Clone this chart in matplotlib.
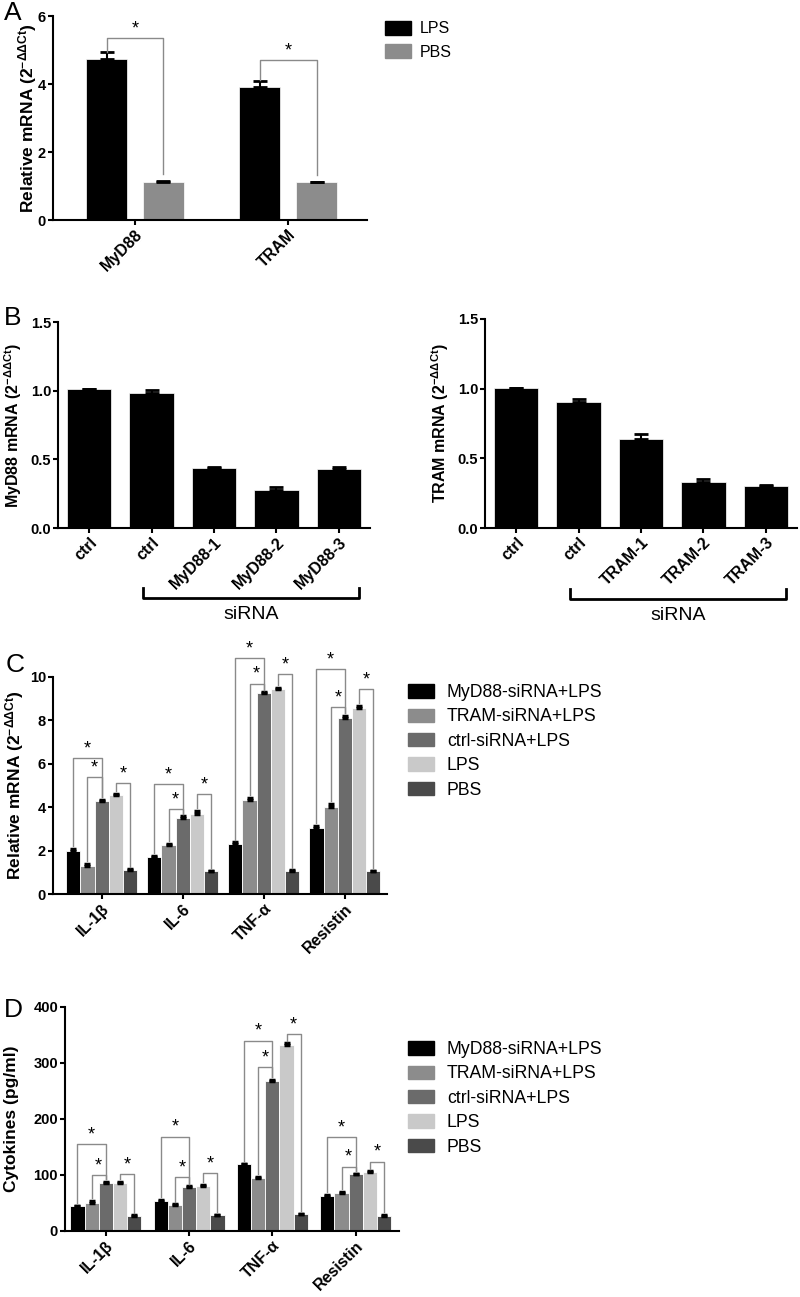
import matplotlib.pyplot as plt
import matplotlib.transforms as mtransforms
from matplotlib.patches import Patch
import numpy as np

plt.rcParams['font.family'] = ['Liberation Sans', 'DejaVu Sans']
plt.rcParams['mathtext.fontset'] = 'custom'
plt.rcParams['mathtext.rm'] = 'Liberation Sans'
plt.rcParams['mathtext.it'] = 'Liberation Sans'
plt.rcParams['mathtext.bf'] = 'Liberation Sans:bold'
plt.rcParams['mathtext.default'] = 'regular'

# ---- panel A data ----
genes_a = ['MyD88', 'TRAM']
lps_a = [4.75, 3.90]
lps_a_err = [0.18, 0.20]
pbs_a = [1.13, 1.11]
pbs_a_err = [0.02, 0.02]
sig_a = [5.36, 4.70]
yticks_a = [0, 2, 4, 6]

# ---- panel B data ----
labels_b1 = ['ctrl', 'ctrl', 'MyD88-1', 'MyD88-2', 'MyD88-3']
myd88_b = [1.01, 0.98, 0.44, 0.275, 0.432]
myd88_b_err = [0.0, 0.025, 0.003, 0.02, 0.012]
labels_b2 = ['ctrl', 'ctrl', 'TRAM-1', 'TRAM-2', 'TRAM-3']
tram_b = [1.008, 0.907, 0.638, 0.331, 0.302]
tram_b_err = [0.0, 0.022, 0.036, 0.019, 0.01]
yticks_b = [0.0, 0.5, 1.0, 1.5]

# ---- panels C / D data ----
cytokines = ['IL-1β', 'IL-6', 'TNF-α', 'Resistin']
groups = ['MyD88-siRNA+LPS', 'TRAM-siRNA+LPS', 'ctrl-siRNA+LPS', 'LPS', 'PBS']
colors_cd = ['#000000', '#8c8c8c', '#6b6b6b', '#c9c9c9', '#4a4a4a']

c_myd88 = [1.99, 1.70, 2.30, 3.02]
c_tram = [1.30, 2.27, 4.35, 4.02]
c_ctrl = [4.28, 3.48, 9.25, 8.12]
c_lps = [4.55, 3.70, 9.45, 8.58]
c_pbs = [1.10, 1.05, 1.07, 1.05]
c_myd88_err = [0.08, 0.05, 0.08, 0.13]
c_tram_err = [0.08, 0.05, 0.07, 0.13]
c_ctrl_err = [0.07, 0.10, 0.04, 0.09]
c_lps_err = [0.07, 0.13, 0.06, 0.08]
c_pbs_err = [0.03, 0.02, 0.02, 0.02]
c_sig_big = [6.28, 5.05, 10.87, 10.37]    # MyD88 vs ctrl
c_sig_small = [5.37, 3.90, 9.70, 8.60]    # TRAM vs ctrl
c_sig_pbs = [5.10, 4.60, 10.15, 9.43]     # LPS vs PBS
yticks_c = [0, 2, 4, 6, 8, 10]

d_myd88 = [44, 53, 119, 63]
d_tram = [50.5, 46, 95, 67.5]
d_ctrl = [86, 78, 268, 101]
d_lps = [85.5, 80.5, 333, 105]
d_pbs = [27, 28, 30, 27.5]
d_myd88_err = [1.5, 2, 1.5, 2]
d_tram_err = [3, 1.5, 2, 2.5]
d_ctrl_err = [1.5, 1.5, 2, 1.5]
d_lps_err = [1.5, 1.5, 2, 1.5]
d_pbs_err = [1, 1, 1, 1]
d_sig_big = [155.6, 168.7, 340, 167.5]
d_sig_small = [99.6, 96, 292, 115]
d_sig_pbs = [101.3, 103, 352, 124]
yticks_d = [0, 100, 200, 300, 400]

W, H = 800, 1297
fig = plt.figure(figsize=(W / 100, H / 100), dpi=100)

TICK_FS = 10.5
XLAB_FS = 11.5


def add_ax(left, top, right, bottom):
    return fig.add_axes([left / W, 1 - bottom / H, (right - left) / W, (bottom - top) / H])


def style(ax, yticks, ylabels, ylabel, ylab_x, fs=12.5):
    for s in ['top', 'right']:
        ax.spines[s].set_visible(False)
    for s in ['left', 'bottom']:
        ax.spines[s].set_linewidth(1.5)
    ax.tick_params(width=1.5, length=3.5, direction='out', pad=1.5)
    ax.set_yticks(yticks, labels=ylabels, fontsize=TICK_FS, fontweight='bold')
    ax.set_ylabel(ylabel, fontsize=fs, fontweight='bold', va='center')
    ax.yaxis.set_label_coords(ylab_x, 0.5)


def xlabels(ax, labels):
    ax.set_xticklabels(labels, rotation=45, ha='right', rotation_mode='anchor',
                       fontsize=XLAB_FS, fontweight='bold')


def bracket(ax, x1, x2, y, b1, b2, color='#8a8a8a'):
    ax.plot([x1, x1, x2, x2], [b1, y, y, b2], color=color, lw=1, clip_on=False)
    ax.annotate('*', (0.5 * (x1 + x2), y), xytext=(0, 0.5), textcoords='offset points',
                ha='center', va='bottom', fontsize=13, annotation_clip=False)


# ================= A =================
axA = add_ax(53, 16, 367, 220)
xa = np.arange(len(genes_a))
off, bw = 0.186, 0.268
axA.bar(xa - off, lps_a, bw, color='black', edgecolor='white', linewidth=0.5)
axA.bar(xa + off, pbs_a, bw, color='#8c8c8c', edgecolor='white', linewidth=0.5)
axA.errorbar(xa - off, lps_a, yerr=[np.zeros(2), lps_a_err], fmt='none', ecolor='black',
             elinewidth=1.5, capsize=5, capthick=2)
axA.errorbar(xa + off, pbs_a, yerr=[np.zeros(2), pbs_a_err], fmt='none', ecolor='black',
             elinewidth=1.5, capsize=5, capthick=2)
for i in range(2):
    bracket(axA, xa[i] - off, xa[i] + off, sig_a[i], lps_a[i] + lps_a_err[i] + 0.02,
            pbs_a[i] + 0.22)
axA.set_xlim(-0.536, 1.516)
axA.set_ylim(0, 6)
axA.set_xticks(xa)
style(axA, yticks_a, [str(v) for v in yticks_a], 'Relative mRNA (2$^{-ΔΔCt}$)',
      (28 - 53) / 314)
xlabels(axA, genes_a)
fig.legend(handles=[Patch(color='black'), Patch(color='#8c8c8c')], labels=['LPS', 'PBS'],
           loc='upper left', bbox_to_anchor=(385 / W, 1 - 21 / H), frameon=False,
           fontsize=11.5, handlelength=1.6, handleheight=0.95, handletextpad=0.6,
           labelspacing=0.5, borderpad=0, borderaxespad=0)

# ================= B =================
for (labels, vals, errs, left, right, top, ylab) in [
        (labels_b1, myd88_b, myd88_b_err, 58, 370, 322, 'MyD88 mRNA (2$^{-ΔΔCt}$)'),
        (labels_b2, tram_b, tram_b_err, 485, 797, 319, 'TRAM mRNA (2$^{-ΔΔCt}$)')]:
    ax = add_ax(left, top, right, 528)
    xb = np.arange(len(labels))
    ax.bar(xb, vals, 0.71, color='black', edgecolor='white', linewidth=0.5)
    ax.errorbar(xb, vals, yerr=[np.zeros(len(vals)), errs], fmt='none', ecolor='black',
                elinewidth=1.5, capsize=5, capthick=2)
    ax.set_xlim(-0.5, 4.5)
    ax.set_ylim(0, 1.5)
    ax.set_xticks(xb)
    style(ax, yticks_b, ['%.1f' % v for v in yticks_b], ylab, -45 / 312, fs=11.5)
    xlabels(ax, labels)
    tr = mtransforms.blended_transform_factory(ax.transData, ax.transAxes)
    ax.plot([0.87, 0.87, 4.33, 4.33], [-0.29, -0.34, -0.34, -0.29], color='black', lw=2,
            transform=tr, clip_on=False)
    ax.text(2.6, -0.42, 'siRNA', transform=tr, ha='center', va='center', fontsize=14)


# ================= C / D =================
def grouped(ax, vals, errs, bw, sig_big, sig_small, sig_pbs, pad):
    xc = np.arange(len(cytokines))
    for k in range(5):
        pos = xc + (k - 2) * bw
        ax.bar(pos, vals[k], bw, color=colors_cd[k], edgecolor='white', linewidth=0.6)
        ax.errorbar(pos, vals[k], yerr=[np.zeros(4), errs[k]], fmt='none', ecolor='black',
                    elinewidth=1.2, capsize=2.5, capthick=2.5)
    for i in range(len(cytokines)):
        tops = [vals[k][i] + errs[k][i] + pad for k in range(5)]
        bracket(ax, i - 2 * bw, i, sig_big[i], tops[0], tops[2])
        bracket(ax, i - bw, i, sig_small[i], tops[1], tops[2])
        bracket(ax, i + bw, i + 2 * bw, sig_pbs[i], tops[3], tops[4])
    ax.set_xticks(xc)


axC = add_ax(53, 677, 387, 894)
grouped(axC, [c_myd88, c_tram, c_ctrl, c_lps, c_pbs],
        [c_myd88_err, c_tram_err, c_ctrl_err, c_lps_err, c_pbs_err], 0.175,
        c_sig_big, c_sig_small, c_sig_pbs, 0.12)
axC.set_xlim(-0.6, 3.52)
axC.set_ylim(0, 10)
style(axC, yticks_c, [str(v) for v in yticks_c], 'Relative mRNA (2$^{-ΔΔCt}$)',
      (15 - 53) / 334)
xlabels(axC, cytokines)

axD = add_ax(65, 1007, 399, 1231)
grouped(axD, [d_myd88, d_tram, d_ctrl, d_lps, d_pbs],
        [d_myd88_err, d_tram_err, d_ctrl_err, d_lps_err, d_pbs_err], 0.17,
        d_sig_big, d_sig_small, d_sig_pbs, 5)
axD.set_xlim(-0.49, 3.52)
axD.set_ylim(0, 400)
style(axD, yticks_d, [str(v) for v in yticks_d], 'Cytokines (pg/ml)', (12 - 65) / 334)
xlabels(axD, cytokines)

handles = [Patch(color=c) for c in colors_cd]
for ytop in [684, 1041]:
    fig.legend(handles=handles, labels=groups, loc='upper left',
               bbox_to_anchor=(408 / W, 1 - ytop / H), frameon=False,
               fontsize=12.7, handlelength=1.5, handleheight=0.8, handletextpad=0.7,
               labelspacing=0.42, borderpad=0, borderaxespad=0)

# panel letters
for letter, x, y in [('A', 4, 13), ('B', 4, 318), ('C', 6, 665), ('D', 4, 1010)]:
    fig.text(x / W, 1 - y / H, letter, fontsize=19, ha='left', va='center')

fig.savefig('out.png', dpi=100)
